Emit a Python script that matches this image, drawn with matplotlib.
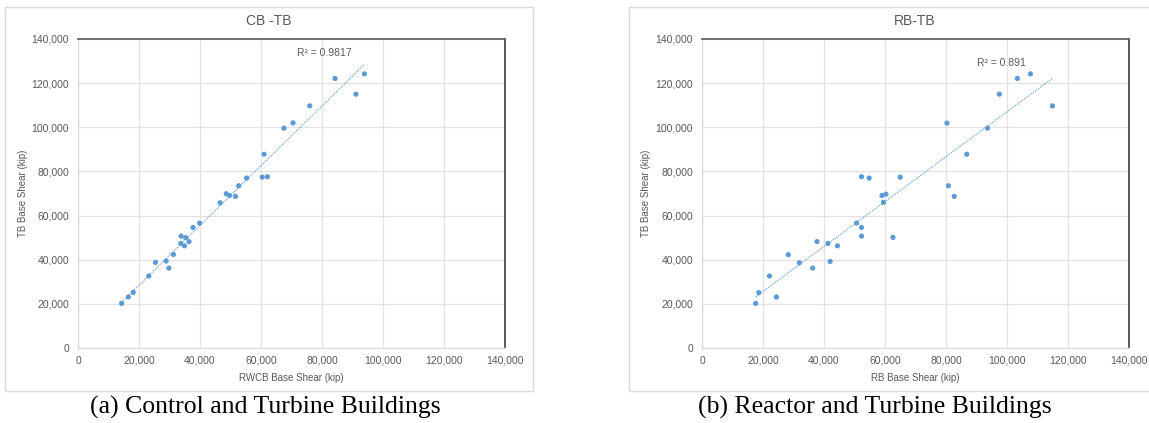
import numpy as np
import matplotlib
matplotlib.use("Agg")
import matplotlib.pyplot as plt
from matplotlib.patches import Rectangle
from matplotlib.ticker import FuncFormatter, MultipleLocator

# ---- data (kip) ----
cb_x = [14300, 16500, 18100, 23200, 25400, 28900, 29800, 31300, 33800, 33700,
        34900, 35300, 36400, 37700, 39900, 46600, 48600, 49700, 51600, 52700,
        55300, 60400, 62100, 61000, 67500, 70500, 76000, 84300, 91100, 93900]
cb_y = [20200, 23100, 25200, 32600, 38800, 39400, 36200, 42400, 50700, 47400,
        46300, 50000, 48200, 54600, 56600, 65800, 69900, 69100, 68700, 73500,
        77000, 77400, 77600, 87800, 99600, 102000, 109700, 122100, 115000, 124200]

rb_x = [17600, 18600, 22100, 24400, 28300, 31900, 36300, 37700, 41300, 42000,
        44400, 50700, 52300, 52300, 52300, 54800, 59000, 60300, 59500, 62600,
        65000, 80300, 80800, 82700, 86800, 93600, 97500, 103400, 107700, 114900]
rb_y = [20200, 25100, 32600, 23100, 42300, 38600, 36200, 48200, 47400, 39200,
        46300, 56600, 54600, 50700, 77600, 77000, 69100, 69700, 66000, 50100,
        77400, 101900, 73500, 68700, 87800, 99600, 115000, 122100, 124200, 109700]

titles = ["CB -TB", "RB-TB"]
xlabels = ["RWCB Base Shear (kip)", "RB Base Shear (kip)"]
ylabel = "TB Base Shear (kip)"
r2_texts = ["R\u00b2 = 0.9817", "R\u00b2 = 0.891"]
r2_pos = [(80900, 133600), (98300, 129000)]
captions = ["(a) Control and Turbine Buildings", "(b) Reactor and Turbine Buildings"]

W, H = 1149, 423
fig = plt.figure(figsize=(W / 100, H / 100), dpi=100)
fig.patch.set_facecolor("white")

def fx(px):
    return px / W

def fy(py):
    return 1 - py / H

blue = "#5B9BD5"
grid_c = "#E3E3E3"
text_c = "#595959"

panels = [
    dict(box_left=5, box_right=533, ax_left=78, title_x=269, ylab_x=23, cap_x=265,
         x=cb_x, y=cb_y),
    dict(box_left=629, box_right=1160, ax_left=702, title_x=915, ylab_x=646, cap_x=875,
         x=rb_x, y=rb_y),
]

ax_w, ax_top, ax_bot = 427, 39, 348

for i, p in enumerate(panels):
    # chart border box
    fig.patches.append(Rectangle((fx(p["box_left"]), fy(391)),
                                 fx(p["box_right"] - p["box_left"]), (391 - 7) / H,
                                 transform=fig.transFigure, fill=False,
                                 edgecolor="#D9D9D9", linewidth=1.0, zorder=0))
    ax = fig.add_axes([fx(p["ax_left"]), fy(ax_bot), fx(ax_w), (ax_bot - ax_top) / H])
    ax.set_xlim(0, 140000)
    ax.set_ylim(0, 140000)
    ax.xaxis.set_major_locator(MultipleLocator(20000))
    ax.yaxis.set_major_locator(MultipleLocator(20000))
    fmt = FuncFormatter(lambda v, pos: f"{int(v):,}")
    ax.xaxis.set_major_formatter(fmt)
    ax.yaxis.set_major_formatter(fmt)
    ax.grid(True, color=grid_c, linewidth=0.9)
    ax.set_axisbelow(True)
    ax.tick_params(length=0, labelsize=7.5, labelcolor=text_c)
    ax.tick_params(axis="y", pad=6.5)
    ax.tick_params(axis="x", pad=5.5)
    for t in ax.get_xticklabels() + ax.get_yticklabels():
        t.set_fontfamily("Liberation Sans")
    ax.spines["left"].set_color("#D9D9D9")
    ax.spines["bottom"].set_color("#D9D9D9")
    ax.spines["left"].set_linewidth(0.9)
    ax.spines["bottom"].set_linewidth(0.9)
    ax.spines["top"].set_color("#5A5A5A")
    ax.spines["right"].set_color("#5A5A5A")
    ax.spines["top"].set_linewidth(1.2)
    ax.spines["right"].set_linewidth(1.4)

    xs = np.array(p["x"], dtype=float)
    ys = np.array(p["y"], dtype=float)
    # linear trendline
    k, b = np.polyfit(xs, ys, 1)
    xl = np.array([xs.min(), xs.max()])
    ax.plot(xl, k * xl + b, linestyle=(0, (1, 1)), color=blue, linewidth=0.8, zorder=2)
    ax.scatter(xs, ys, s=14, color=blue, edgecolors="none", zorder=3)
    ax.text(r2_pos[i][0], r2_pos[i][1], r2_texts[i], ha="center", va="center",
            fontsize=7.5, color=text_c, family="Liberation Sans")

    ax.set_xlabel(xlabels[i], fontsize=7, color=text_c, family="Liberation Sans",
                  labelpad=5)

    fig.text(fx(p["ylab_x"]), fy(193), ylabel, rotation=90, ha="center", va="center",
             fontsize=7, color=text_c, family="Liberation Sans")
    fig.text(fx(p["title_x"]), fy(21), titles[i], ha="center", va="center",
             fontsize=10, color=text_c, family="Liberation Sans")
    fig.text(fx(p["cap_x"]), fy(407), captions[i], ha="center", va="center",
             fontsize=18.5, color="black", family="Liberation Serif")

fig.savefig("out.png", dpi=100, facecolor="white")
